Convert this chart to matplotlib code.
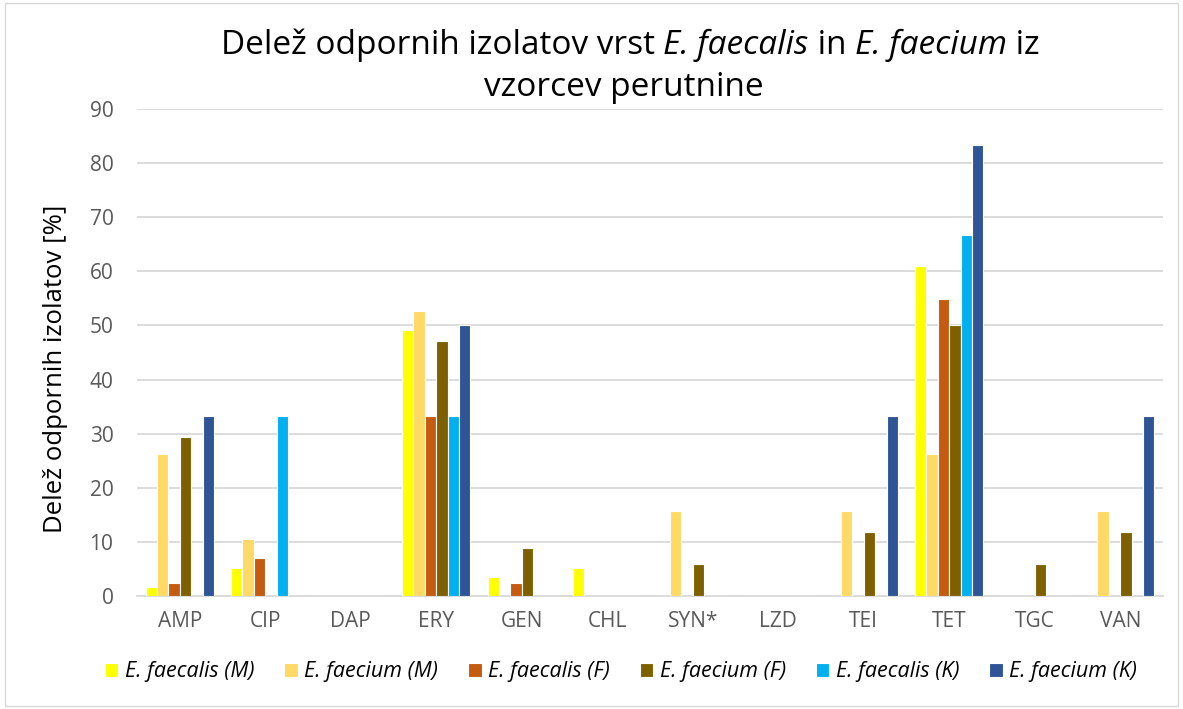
import matplotlib
matplotlib.use("Agg")
import matplotlib.pyplot as plt
import numpy as np
from matplotlib.patches import Rectangle

categories = ["AMP", "CIP", "DAP", "ERY", "GEN", "CHL", "SYN*", "LZD", "TEI", "TET", "TGC", "VAN"]
series_names = ["E. faecalis (M)", "E. faecium (M)", "E. faecalis (F)",
                "E. faecium (F)", "E. faecalis (K)", "E. faecium (K)"]
faecalis_M = [1.7, 5.1, 0, 49.1, 3.5, 5.1, 0, 0, 0, 61.0, 0, 0]
faecium_M = [26.3, 10.5, 0, 52.6, 0, 0, 15.8, 0, 15.8, 26.3, 0, 15.8]
faecalis_F = [2.4, 7.1, 0, 33.3, 2.4, 0, 0, 0, 0, 54.8, 0, 0]
faecium_F = [29.4, 0, 0, 47.1, 8.8, 0, 5.9, 0, 11.8, 50.0, 5.9, 11.8]
faecalis_K = [0, 33.3, 0, 33.3, 0, 0, 0, 0, 0, 66.7, 0, 0]
faecium_K = [33.3, 0, 0, 50.0, 0, 0, 0, 0, 33.3, 83.3, 0, 33.3]
series = [faecalis_M, faecium_M, faecalis_F, faecium_F, faecalis_K, faecium_K]
colors = ["#FFFF00", "#FFD966", "#C55A11", "#7F6000", "#00B0F0", "#2F5597"]

title_line1 = [("Delež odpornih izolatov vrst ", "normal"), ("E. faecalis", "italic"),
               (" in ", "normal"), ("E. faecium", "italic"), (" iz", "normal")]
title_line2 = "vzorcev perutnine"

plt.rcParams['font.family'] = ['Open Sans', 'DejaVu Sans']

fig = plt.figure(figsize=(11.83, 7.09), dpi=100)
fig.patches.append(Rectangle((0.004, 0.004), 0.992, 0.992, transform=fig.transFigure,
                             fill=False, edgecolor="#d9d9d9", linewidth=1))
ax = fig.add_axes([137/1183, 1-596/709, (1163-137)/1183, (596-109)/709])

x = np.arange(len(categories))
n = len(series)
group_w = 0.8
bw = group_w / n
for i, (vals, c, name) in enumerate(zip(series, colors, series_names)):
    ax.bar(x - group_w/2 + bw*(i+0.5), vals, width=bw, color=c, edgecolor="white",
           linewidth=0.8, label=name, zorder=3)

ax.set_xlim(-0.5, len(categories)-0.5)
ax.set_ylim(0, 90)
ax.set_yticks(range(0, 91, 10))
ax.yaxis.grid(True, color="#d9d9d9", linewidth=1.3, zorder=0)
ax.set_axisbelow(True)
for s in ["top", "right", "left"]:
    ax.spines[s].set_visible(False)
ax.spines["bottom"].set_color("#d9d9d9")
ax.spines["bottom"].set_linewidth(1.3)
ax.tick_params(axis="both", length=0, labelsize=15, colors="#595959")
ax.tick_params(axis="y", pad=17)
ax.tick_params(axis="x", pad=11)
ax.set_xticks(x)
ax.set_xticklabels(categories)
ax.set_ylabel("Delež odpornih izolatov [%]", fontsize=18.5, color="black")
ax.yaxis.set_label_coords(68/1183, 1-369/709, transform=fig.transFigure)

# Title with mixed italic pieces, centred
renderer = fig.canvas.get_renderer()
tsize = 24
texts = [fig.text(0, 0, s, fontsize=tsize, style=st, va="center", ha="left")
         for s, st in title_line1]
widths = [t.get_window_extent(renderer).width for t in texts]
total = sum(widths)
xpix = 630 - total/2
for t, w in zip(texts, widths):
    t.set_position((xpix/1183, 1-45/709))
    xpix += w
fig.text(624/1183, 1-88/709, title_line2, ha="center", va="center", fontsize=tsize)

leg = fig.legend(loc="center", bbox_to_anchor=(621/1183, 1-672/709), ncol=6, frameon=False,
                 prop={"style": "italic", "size": 15.5}, handlelength=0.62, handleheight=0.62,
                 columnspacing=1.4, handletextpad=0.3)

fig.savefig("out.png", dpi=100)
